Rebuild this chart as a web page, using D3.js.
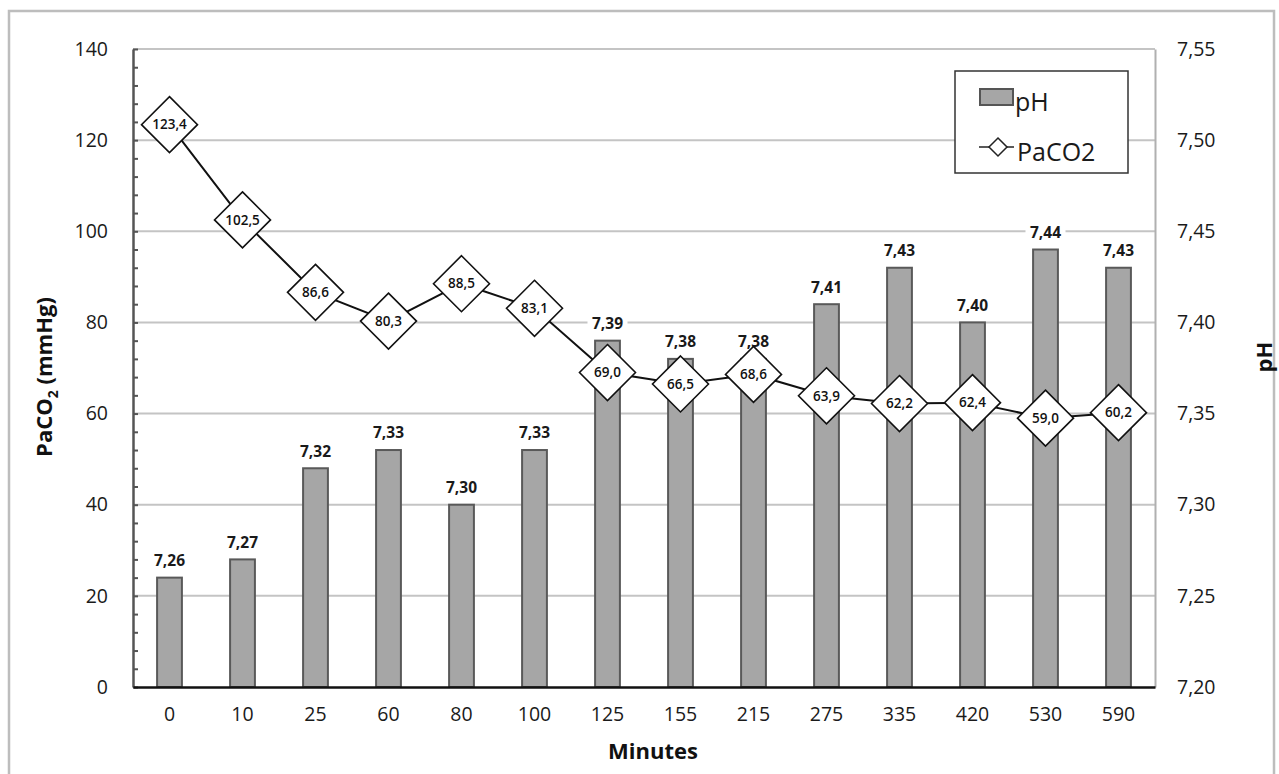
<!DOCTYPE html>
<html>
<head>
<meta charset="utf-8">
<script src="https://cdn.jsdelivr.net/npm/d3@7"></script>
<style>
  html, body { margin: 0; padding: 0; background: #fff; }
  svg { display: block; font-family: "Open Sans", "Noto Sans", sans-serif; }
</style>
</head>
<body>
<svg id="chart" width="1279" height="774"></svg>
<script>
const minutes = ["0","10","25","60","80","100","125","155","215","275","335","420","530","590"];
const phValues = [7.26, 7.27, 7.32, 7.33, 7.30, 7.33, 7.39, 7.38, 7.38, 7.41, 7.43, 7.40, 7.44, 7.43];
const paco2Values = [123.4, 102.5, 86.6, 80.3, 88.5, 83.1, 69.0, 66.5, 68.6, 63.9, 62.2, 62.4, 59.0, 60.2];
const leftTicks = [0, 20, 40, 60, 80, 100, 120, 140];
const rightTicks = [7.20, 7.25, 7.30, 7.35, 7.40, 7.45, 7.50, 7.55];

const locale = d3.formatLocale({decimal: ",", thousands: ".", grouping: [3], currency: ["", ""]});
const f2 = locale.format(".2f");
const f1 = locale.format(".1f");

const svg = d3.select("#chart");
const L = 133, R = 1155, T = 49, B = 687;

// outer frame
svg.append("rect").attr("x", 9).attr("y", 11).attr("width", 1265).attr("height", 790)
  .attr("fill", "#fff").attr("stroke", "#bdbdbd").attr("stroke-width", 2.5);

const x = d3.scaleBand().domain(minutes).range([L, R]).paddingInner(0.66).paddingOuter(0.33);
const yL = d3.scaleLinear().domain([0, 140]).range([B, T]);
const yR = d3.scaleLinear().domain([7.20, 7.55]).range([B, T]);
const cx = d => x(d) + x.bandwidth() / 2;

// gridlines
svg.append("g").selectAll("line").data(leftTicks.filter(d => d > 0)).join("line")
  .attr("x1", L).attr("x2", R).attr("y1", d => yL(d)).attr("y2", d => yL(d))
  .attr("stroke", "#c4c4c4").attr("stroke-width", 2);

// right axis
const gR = svg.append("g").attr("transform", `translate(${R},0)`)
  .call(d3.axisRight(yR).tickValues(rightTicks).tickFormat(f2).tickSize(0).tickPadding(22));
gR.select(".domain").attr("stroke", "#b0b0b0").attr("stroke-width", 2);
gR.selectAll("text").attr("font-size", 19.5).attr("fill", "#1a1a1a").attr("font-family", "Open Sans");

// left axis
const gL = svg.append("g").attr("transform", `translate(${L},0)`)
  .call(d3.axisLeft(yL).tickValues(leftTicks).tickSize(0).tickPadding(25));
gL.select(".domain").attr("stroke", "#555").attr("stroke-width", 2.5);
gL.selectAll("text").attr("font-size", 19.5).attr("fill", "#1a1a1a").attr("font-family", "Open Sans");
// minor ticks (inside)
svg.append("g").attr("transform", `translate(${L},0)`)
  .call(d3.axisRight(yL).tickValues(d3.range(0, 141, 4)).tickSize(5).tickFormat(""))
  .call(g => g.select(".domain").remove())
  .selectAll("line").attr("stroke", "#555").attr("stroke-width", 2);

// bars
svg.append("g").selectAll("rect").data(phValues).join("rect")
  .attr("x", (d, i) => x(minutes[i]))
  .attr("y", d => yR(d))
  .attr("width", x.bandwidth())
  .attr("height", d => B - yR(d))
  .attr("fill", "#a6a6a6").attr("stroke", "#595959").attr("stroke-width", 2);

// bottom axis
const gB = svg.append("g").attr("transform", `translate(0,${B})`)
  .call(d3.axisBottom(x).tickSize(0).tickPadding(20));
gB.select(".domain").attr("stroke", "#111").attr("stroke-width", 2.5);
gB.selectAll("text").attr("font-size", 19.5).attr("fill", "#1a1a1a").attr("font-family", "Open Sans");

// bar labels
const bl = svg.append("g").selectAll("g").data(phValues).join("g")
  .attr("transform", (d, i) => `translate(${cx(minutes[i])},${yR(d) - 17})`);
bl.append("rect").attr("x", -20).attr("y", -11).attr("width", 40).attr("height", 22).attr("fill", "#fff");
bl.append("text").attr("text-anchor", "middle").attr("dy", "0.35em")
  .attr("font-size", 15.5).attr("font-weight", 700).attr("fill", "#1a1a1a")
  .text(d => f2(d));

// line
const line = d3.line().x((d, i) => cx(minutes[i])).y(d => yL(d));
svg.append("path").datum(paco2Values).attr("d", line)
  .attr("fill", "none").attr("stroke", "#111").attr("stroke-width", 2);

// diamonds
const dg = svg.append("g").selectAll("g").data(paco2Values).join("g")
  .attr("transform", (d, i) => `translate(${cx(minutes[i])},${yL(d)})`);
const h = 28;
dg.append("path").attr("d", `M0,${-h}L${h},0L0,${h}L${-h},0Z`)
  .attr("fill", "#fff").attr("stroke", "#111").attr("stroke-width", 1.6);
dg.append("text").attr("text-anchor", "middle").attr("dy", "0.35em")
  .attr("font-size", 13.5).attr("font-weight", 600).attr("fill", "#111")
  .text(d => f1(d));

// axis titles
svg.append("text").attr("x", 653).attr("y", 759).attr("text-anchor", "middle")
  .attr("font-size", 22).attr("font-weight", 700).attr("fill", "#111").text("Minutes");

const lt = svg.append("text").attr("transform", "translate(52,377) rotate(-90)")
  .attr("text-anchor", "middle").attr("font-size", 22).attr("font-weight", 700).attr("fill", "#111");
lt.append("tspan").text("PaCO");
lt.append("tspan").attr("font-size", 14).attr("dy", 6).text("2");
lt.append("tspan").attr("dy", -6).text(" (mmHg)");

svg.append("text").attr("transform", "translate(1272,357) rotate(-90)")
  .attr("text-anchor", "middle").attr("font-size", 22).attr("font-weight", 700).attr("fill", "#111").text("pH");

// legend
const lg = svg.append("g");
lg.append("rect").attr("x", 955).attr("y", 71).attr("width", 173).attr("height", 102)
  .attr("fill", "#fff").attr("stroke", "#333").attr("stroke-width", 1.5);
lg.append("rect").attr("x", 980).attr("y", 89).attr("width", 33).attr("height", 16)
  .attr("fill", "#a6a6a6").attr("stroke", "#555").attr("stroke-width", 2);
lg.append("text").attr("x", 1015).attr("y", 111).attr("font-size", 25).attr("fill", "#1a1a1a").text("pH");
lg.append("line").attr("x1", 979).attr("x2", 1014).attr("y1", 147).attr("y2", 147)
  .attr("stroke", "#222").attr("stroke-width", 1.5);
lg.append("path").attr("d", "M998,138L1007,147L998,156L989,147Z")
  .attr("fill", "#fff").attr("stroke", "#222").attr("stroke-width", 1.5);
lg.append("text").attr("x", 1017).attr("y", 161).attr("font-size", 25).attr("fill", "#1a1a1a").text("PaCO2");
</script>
</body>
</html>
